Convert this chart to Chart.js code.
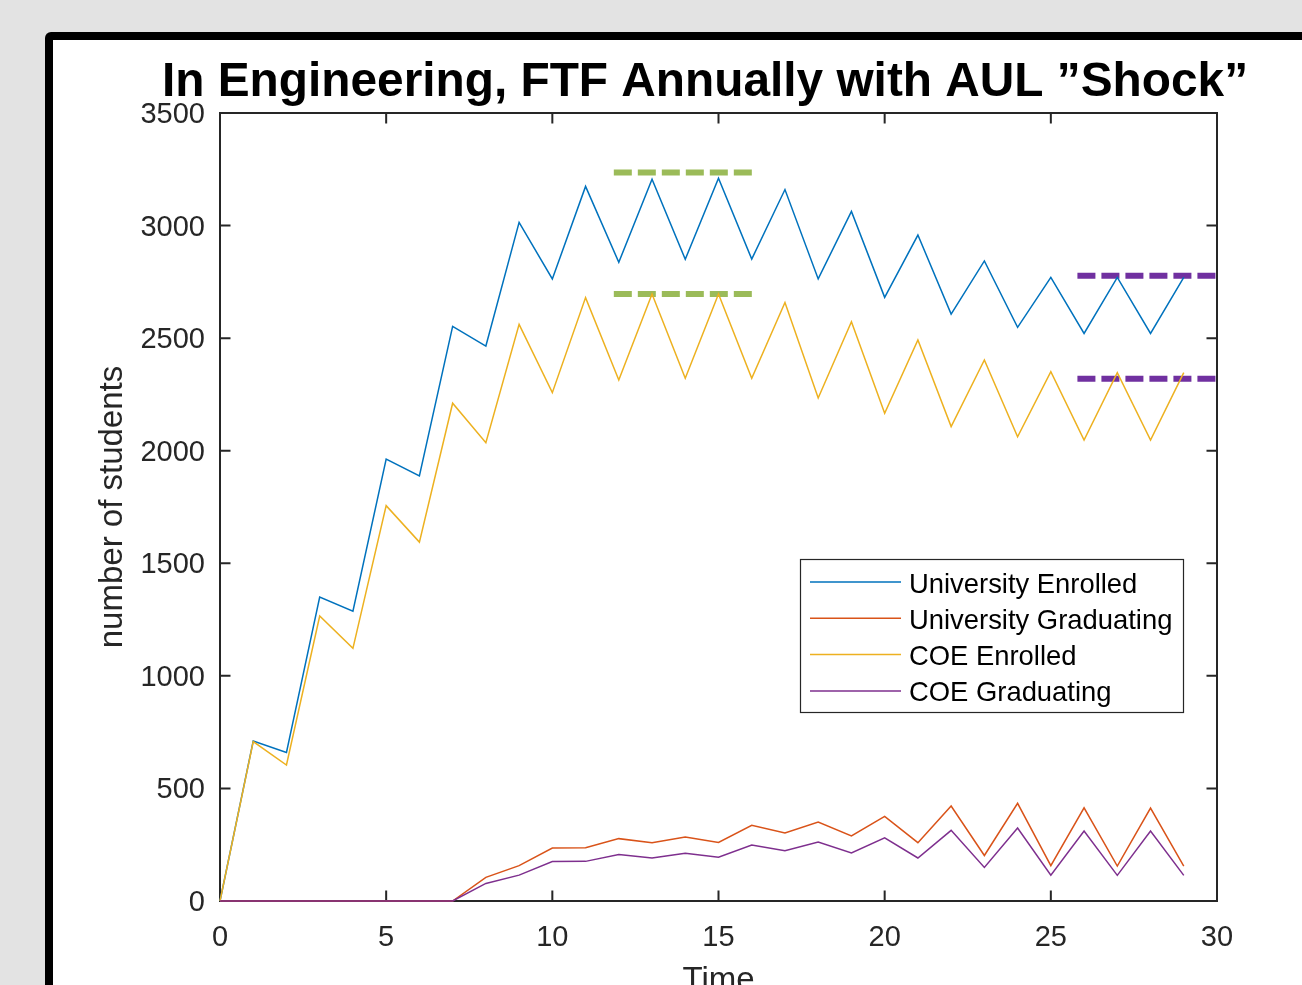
<!DOCTYPE html>
<html>
<head>
<meta charset="utf-8">
<title>In Engineering, FTF Annually with AUL "Shock"</title>
<script src="https://cdn.jsdelivr.net/npm/chart.js@4/dist/chart.umd.min.js"></script>
<style>
  html, body { margin: 0; padding: 0; background: #e3e3e3; overflow: hidden; }
  canvas { display: block; }
</style>
</head>
<body>
<canvas id="chart" width="1302" height="985"></canvas>
<script>
// Simulation years
const years = [0, 1, 2, 3, 4, 5, 6, 7, 8, 9, 10, 11, 12, 13, 14, 15, 16, 17, 18, 19, 20, 21, 22, 23, 24, 25, 26, 27, 28, 29];

// Student counts per year
const uniEnrolled    = [0, 711, 660, 1350, 1287, 1963, 1888, 2552, 2465, 3014, 2763, 3174, 2837, 3206, 2850, 3210, 2851, 3160, 2763, 3063, 2681, 2958, 2607, 2843, 2548, 2770, 2521, 2770, 2521, 2770];
const uniGraduating  = [0, 0, 0, 0, 0, 0, 0, 0, 105, 157, 235, 237, 277, 259, 284, 260, 336, 302, 351, 289, 376, 259, 422, 202, 434, 157, 414, 155, 413, 155];
const coeEnrolled    = [0, 708, 604, 1266, 1122, 1756, 1594, 2211, 2036, 2561, 2258, 2680, 2314, 2696, 2322, 2696, 2322, 2658, 2234, 2573, 2166, 2492, 2107, 2403, 2062, 2351, 2047, 2347, 2047, 2347];
const coeGraduating  = [0, 0, 0, 0, 0, 0, 0, 0, 78, 115, 175, 176, 206, 191, 212, 194, 249, 223, 262, 213, 281, 191, 314, 149, 324, 115, 311, 114, 311, 114];

// Reference levels: peak plateau (green) and long-run level (purple)
const peakSpan   = [11.85, 16.08];
const peakUni    = 3236;
const peakCoe    = 2696;
const steadySpan = [25.8, 30];
const steadyUni  = 2777;
const steadyCoe  = 2320;

// Axis ticks
const xTicks = [0, 5, 10, 15, 20, 25, 30];
const yTicks = [0, 500, 1000, 1500, 2000, 2500, 3000, 3500];

const seriesLabels = ['University Enrolled', 'University Graduating', 'COE Enrolled', 'COE Graduating'];
const seriesColors = ['#0072BD', '#D95319', '#EDB120', '#7E2F8E'];

const FONT = '"Liberation Sans", Arial, Helvetica, sans-serif';
const AXIS_COLOR = '#262626';

function toPoints(xs, ys) { return xs.map((x, i) => ({ x: x, y: ys[i] })); }
function levelLine(span, level) { return span.map(x => ({ x: x, y: level })); }

const seriesData = [uniEnrolled, uniGraduating, coeEnrolled, coeGraduating];
const datasets = seriesData.map((vals, i) => ({
  label: seriesLabels[i],
  data: toPoints(years, vals),
  borderColor: seriesColors[i],
  borderWidth: 1.5,
  pointRadius: 0,
  tension: 0,
  fill: false,
  clip: 6,
  order: 4 - i
}));

function refLine(span, level, color) {
  return {
    label: '',
    isReference: true,
    data: levelLine(span, level),
    borderColor: color,
    borderWidth: 6,
    borderDash: [18, 6],
    borderCapStyle: 'butt',
    pointRadius: 0,
    fill: false,
    clip: 6,
    order: 10
  };
}
datasets.push(refLine(peakSpan, peakUni, '#9BBB59'));
datasets.push(refLine(peakSpan, peakCoe, '#9BBB59'));
datasets.push(refLine(steadySpan, steadyUni, '#7030A0'));
datasets.push(refLine(steadySpan, steadyCoe, '#7030A0'));

// Slide background with the framed panel
const panelPlugin = {
  id: 'panel',
  beforeDraw(chart) {
    const ctx = chart.ctx;
    ctx.save();
    ctx.fillStyle = '#e3e3e3';
    ctx.fillRect(0, 0, chart.width, chart.height);
    ctx.fillStyle = '#000000';
    ctx.beginPath();
    ctx.roundRect(45, 32, chart.width + 40, chart.height + 40, 6);
    ctx.fill();
    ctx.fillStyle = '#ffffff';
    ctx.fillRect(53, 40, chart.width, chart.height);
    ctx.restore();
  }
};

// Axes box with inward tick marks on all four sides
const boxPlugin = {
  id: 'axesBox',
  beforeDatasetsDraw(chart) {
    const { ctx, chartArea: a, scales: { x, y } } = chart;
    const len = 10.5;
    ctx.save();
    ctx.strokeStyle = AXIS_COLOR;
    ctx.lineWidth = 2;
    ctx.beginPath();
    ctx.rect(a.left, a.top, a.right - a.left, a.bottom - a.top);
    ctx.stroke();
    ctx.beginPath();
    x.ticks.forEach(t => {
      const px = x.getPixelForValue(t.value);
      ctx.moveTo(px, a.bottom); ctx.lineTo(px, a.bottom - len);
      ctx.moveTo(px, a.top); ctx.lineTo(px, a.top + len);
    });
    y.ticks.forEach(t => {
      const py = y.getPixelForValue(t.value);
      ctx.moveTo(a.left, py); ctx.lineTo(a.left + len, py);
      ctx.moveTo(a.right, py); ctx.lineTo(a.right - len, py);
    });
    ctx.stroke();
    ctx.restore();
  }
};

// Title, axis titles and the boxed legend
const textPlugin = {
  id: 'texts',
  afterDatasetsDraw(chart) {
    const { ctx, chartArea: a } = chart;
    ctx.save();
    // title
    ctx.fillStyle = '#000000';
    ctx.font = 'bold 47.8px ' + FONT;
    ctx.textAlign = 'center';
    ctx.textBaseline = 'alphabetic';
    ctx.fillText('In Engineering, FTF Annually with AUL \u201DShock\u201D', 705, 96);

    // axis titles
    ctx.fillStyle = AXIS_COLOR;
    ctx.font = '33px ' + FONT;
    ctx.fillText('Time', (a.left + a.right) / 2, 990);
    ctx.save();
    ctx.translate(122, (a.top + a.bottom) / 2);
    ctx.rotate(-Math.PI / 2);
    ctx.fillText('number of students', 0, 0);
    ctx.restore();

    // legend
    const lx = 800, ly = 559, lw = 383, lh = 153;
    ctx.fillStyle = '#ffffff';
    ctx.fillRect(lx, ly, lw, lh);
    ctx.strokeStyle = AXIS_COLOR;
    ctx.lineWidth = 1.2;
    ctx.strokeRect(lx + 0.5, ly + 0.5, lw, lh);
    ctx.font = '27.4px ' + FONT;
    ctx.textAlign = 'left';
    ctx.textBaseline = 'middle';
    chart.data.datasets.filter(d => !d.isReference).forEach((d, i) => {
      const yy = 582 + i * 36.3;
      ctx.strokeStyle = d.borderColor;
      ctx.lineWidth = 1.5;
      ctx.beginPath();
      ctx.moveTo(810, yy); ctx.lineTo(901, yy);
      ctx.stroke();
      ctx.fillStyle = '#000000';
      ctx.fillText(d.label, 909, yy + 3);
    });
    ctx.restore();
  }
};

new Chart(document.getElementById('chart'), {
  type: 'line',
  data: { datasets: datasets },
  options: {
    responsive: false,
    animation: false,
    devicePixelRatio: 1,
    layout: { padding: { left: 0, top: 113, right: 85, bottom: 0 } },
    plugins: {
      legend: { display: false },
      title: { display: false },
      tooltip: { enabled: false }
    },
    scales: {
      x: {
        type: 'linear',
        min: xTicks[0],
        max: xTicks[xTicks.length - 1],
        afterBuildTicks(scale) { scale.ticks = xTicks.map(v => ({ value: v })); },
        afterFit(scale) { scale.height = 84; },
        grid: { display: false, drawTicks: false },
        border: { display: false },
        ticks: {
          padding: 20,
          color: AXIS_COLOR,
          font: { family: FONT, size: 29 },
          maxRotation: 0,
          autoSkip: false,
          callback: v => String(v)
        }
      },
      y: {
        type: 'linear',
        min: yTicks[0],
        max: yTicks[yTicks.length - 1],
        afterBuildTicks(scale) { scale.ticks = yTicks.map(v => ({ value: v })); },
        afterFit(scale) { scale.width = 220; },
        grid: { display: false, drawTicks: false },
        border: { display: false },
        ticks: {
          padding: 15,
          labelOffset: 2,
          color: AXIS_COLOR,
          font: { family: FONT, size: 29 },
          autoSkip: false,
          callback: v => String(v)
        }
      }
    }
  },
  plugins: [panelPlugin, boxPlugin, textPlugin]
});
</script>
</body>
</html>
